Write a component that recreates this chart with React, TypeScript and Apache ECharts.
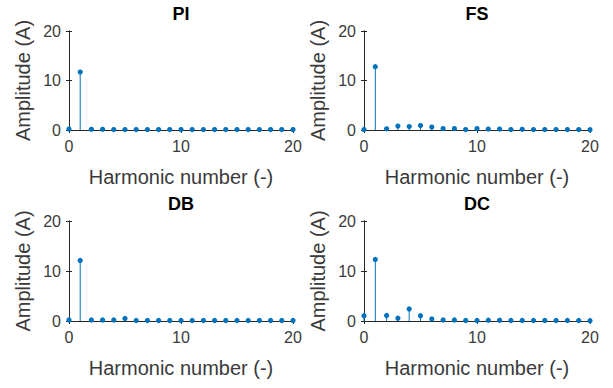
import React, { useEffect, useRef } from "react";
import * as echarts from "echarts";

const harmonics = [0, 1, 2, 3, 4, 5, 6, 7, 8, 9, 10, 11, 12, 13, 14, 15, 16, 17, 18, 19, 20];
const titles = ["PI", "FS", "DB", "DC"];
const piValues = [0.2, 11.7, 0.15, 0.15, 0.1, 0.1, 0.1, 0.1, 0.1, 0.1, 0.1, 0.1, 0.1, 0.1, 0.1, 0.1, 0.1, 0.1, 0.1, 0.1, 0.1];
const fsValues = [0.1, 12.8, 0.25, 0.8, 0.7, 0.9, 0.6, 0.3, 0.3, 0.1, 0.3, 0.2, 0.2, 0.1, 0.15, 0.1, 0.1, 0.1, 0.1, 0.1, 0.05];
const dbValues = [0.2, 12.1, 0.2, 0.2, 0.2, 0.5, 0.1, 0.1, 0.1, 0.1, 0.1, 0.1, 0.1, 0.1, 0.1, 0.1, 0.1, 0.1, 0.1, 0.1, 0.1];
const dcValues = [1.05, 12.3, 1.1, 0.55, 2.4, 1.05, 0.4, 0.2, 0.2, 0.1, 0.1, 0.15, 0.15, 0.1, 0.1, 0.1, 0.1, 0.1, 0.1, 0.1, 0.05];
const xTicks = [0, 10, 20];
const yTicks = [0, 10, 20];
const xLabel = "Harmonic number (-)";
const yLabel = "Amplitude (A)";

const allValues = [piValues, fsValues, dbValues, dcValues];

const FONT = "Liberation Sans, Arial, Helvetica, sans-serif";
const AXIS = "#262626";
const TEXT = "#3a3a3a";
const BLUE = "#0072BD";

const grids = [
  { left: 69, top: 31, width: 224, height: 99 },
  { left: 364, top: 31, width: 226, height: 99 },
  { left: 69, top: 221, width: 224, height: 100 },
  { left: 364, top: 221, width: 226, height: 100 },
];

export default function App() {
  const ref = useRef<HTMLDivElement>(null);
  useEffect(() => {
    if (!ref.current) return;
    const chart = echarts.init(ref.current, undefined, { renderer: "svg" });
    const xAxes: any[] = [];
    const yAxes: any[] = [];
    const series: any[] = [];
    const titleOpts: any[] = [];
    grids.forEach((g, i) => {
      titleOpts.push({
        text: titles[i],
        left: g.left + g.width / 2,
        textAlign: "center",
        top: g.top - 26,
        padding: 0,
        textStyle: { fontFamily: FONT, fontSize: 18, fontWeight: "bold", color: "#000" },
      });
      const common = {
        gridIndex: i,
        type: "value",
        min: xTicks[0],
        max: xTicks[xTicks.length - 1],
        interval: xTicks[1] - xTicks[0],
        splitLine: { show: false },
        axisLine: { show: true, lineStyle: { color: AXIS, width: 1 } },
        axisTick: { show: true, inside: true, length: 3, lineStyle: { color: AXIS } },
      };
      xAxes.push({
        ...common,
        position: "bottom",
        name: xLabel,
        nameLocation: "middle",
        nameGap: 37,
        nameTextStyle: { fontFamily: FONT, fontSize: 20, color: TEXT },
        axisLabel: { fontFamily: FONT, fontSize: 16, color: TEXT, margin: 8 },
      });
      xAxes.push({ ...common, position: "top", axisLabel: { show: false } });
      const ycommon = {
        gridIndex: i,
        type: "value",
        min: yTicks[0],
        max: yTicks[yTicks.length - 1],
        interval: yTicks[1] - yTicks[0],
        splitLine: { show: false },
        axisLine: { show: true, lineStyle: { color: AXIS, width: 1 } },
        axisTick: { show: true, inside: true, length: 3, lineStyle: { color: AXIS } },
      };
      yAxes.push({
        ...ycommon,
        position: "left",
        name: yLabel,
        nameLocation: "middle",
        nameGap: 36,
        nameTextStyle: { fontFamily: FONT, fontSize: 20, color: TEXT },
        axisLabel: { fontFamily: FONT, fontSize: 16, color: TEXT, margin: 8 },
      });
      yAxes.push({ ...ycommon, position: "right", axisLabel: { show: false } });
      series.push({
        type: "custom",
        xAxisIndex: i * 2,
        yAxisIndex: i * 2,
        clip: false,
        encode: { x: 0, y: 1 },
        data: harmonics.map((h, k) => [h, allValues[i][k]]),
        renderItem: (params: any, api: any) => {
          const x = api.value(0);
          const y = api.value(1);
          const p0 = api.coord([x, 0]);
          const p1 = api.coord([x, y]);
          return {
            type: "group",
            children: [
              {
                type: "line",
                shape: { x1: p0[0], y1: p0[1], x2: p1[0], y2: p1[1] },
                style: { stroke: BLUE, lineWidth: 1 },
              },
              {
                type: "circle",
                shape: { cx: p1[0], cy: p1[1], r: 2.6 },
                style: { fill: BLUE },
              },
            ],
          };
        },
      });
    });
    chart.setOption({
      animation: false,
      backgroundColor: "#fff",
      title: titleOpts,
      grid: grids.map((g) => ({ ...g, containLabel: false })),
      xAxis: xAxes,
      yAxis: yAxes,
      series,
    });
    return () => chart.dispose();
  }, []);
  return (
    <div
      ref={ref}
      style={{ position: "fixed", left: 0, top: 0, width: 613, height: 388, background: "#fff" }}
    />
  );
}
